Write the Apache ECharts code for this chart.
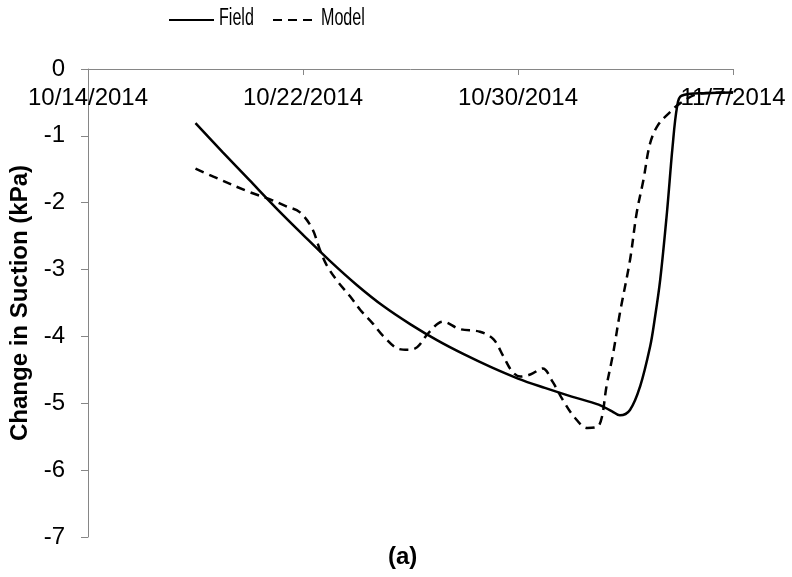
<!DOCTYPE html>
<html>
<head>
<meta charset="utf-8">
<script src="https://cdn.jsdelivr.net/npm/echarts@6/dist/echarts.min.js"></script>
<style>
  html, body { margin: 0; padding: 0; background: #ffffff; }
  #chart { width: 792px; height: 577px; }
</style>
</head>
<body>
<div id="chart"></div>
<script>
// Time origin of the horizontal axis and its tick spacing (days)
const startDate = '2014-10-14';
const endDate = '2014-11-07';
const tickStepDays = 8;

// Series names shown in the key
const seriesNames = ['Field', 'Model'];

// Measured field suction change (kPa)
const fieldTimes = [
  '2014-10-18 00:00', '2014-10-19 00:00', '2014-10-20 00:00', '2014-10-21 00:00',
  '2014-10-22 00:00', '2014-10-23 00:00', '2014-10-24 00:00', '2014-10-25 00:00',
  '2014-10-26 00:00', '2014-10-27 00:00', '2014-10-28 00:00', '2014-10-29 00:00',
  '2014-10-30 00:00', '2014-10-31 00:00', '2014-11-01 00:00', '2014-11-02 00:00',
  '2014-11-02 12:00', '2014-11-02 19:00', '2014-11-03 04:00', '2014-11-03 13:00',
  '2014-11-03 22:00', '2014-11-04 02:00', '2014-11-04 07:00', '2014-11-04 13:00',
  '2014-11-04 18:00', '2014-11-04 22:00', '2014-11-05 02:00', '2014-11-06 00:00',
  '2014-11-07 00:00'
];
const fieldValues = [
  -0.81, -1.24, -1.66, -2.08,
  -2.48, -2.87, -3.23, -3.55,
  -3.82, -4.06, -4.27, -4.46,
  -4.63, -4.77, -4.90, -5.02,
  -5.12, -5.18, -5.10, -4.75,
  -4.15, -3.75, -3.15, -2.15,
  -1.17, -0.57, -0.40, -0.36,
  -0.35
];

// Modelled suction change (kPa)
const modelTimes = [
  '2014-10-18 00:00', '2014-10-18 16:00', '2014-10-20 00:00', '2014-10-20 17:00',
  '2014-10-21 10:00', '2014-10-21 21:00', '2014-10-22 08:00', '2014-10-22 15:00',
  '2014-10-22 21:00', '2014-10-23 07:00', '2014-10-23 18:00', '2014-10-24 03:00',
  '2014-10-24 14:00', '2014-10-25 00:00', '2014-10-25 14:00', '2014-10-25 22:00',
  '2014-10-26 06:00', '2014-10-26 16:00', '2014-10-27 05:00', '2014-10-27 20:00',
  '2014-10-28 14:00', '2014-10-29 02:00', '2014-10-29 11:00', '2014-10-29 19:00',
  '2014-10-30 02:00', '2014-10-30 11:00', '2014-10-30 22:00', '2014-10-31 07:00',
  '2014-10-31 16:00', '2014-11-01 03:00', '2014-11-01 14:00', '2014-11-01 23:00',
  '2014-11-02 03:00', '2014-11-02 07:00', '2014-11-02 13:00', '2014-11-02 19:00',
  '2014-11-03 04:00', '2014-11-03 10:00', '2014-11-03 16:00', '2014-11-03 22:00',
  '2014-11-04 05:00', '2014-11-04 16:00', '2014-11-05 01:00', '2014-11-05 18:00',
  '2014-11-07 00:00'
];
const modelValues = [
  -1.49, -1.61, -1.84, -1.94,
  -2.06, -2.14, -2.38, -2.70,
  -2.93, -3.18, -3.40, -3.60,
  -3.80, -4.00, -4.19, -4.20,
  -4.16, -3.95, -3.78, -3.89,
  -3.93, -4.04, -4.30, -4.53,
  -4.60, -4.57, -4.48, -4.68,
  -4.95, -5.22, -5.37, -5.35,
  -5.20, -4.75, -4.25, -3.65,
  -2.86, -2.15, -1.66, -1.11,
  -0.84, -0.64, -0.51, -0.37,
  -0.35
];

const DAY_MS = 86400000;
function toUTC(s) {
  const parts = s.split(' ');
  const [Y, M, D] = parts[0].split('-').map(Number);
  const [h, m] = (parts[1] || '00:00').split(':').map(Number);
  return Date.UTC(Y, M - 1, D, h, m);
}
const originMs = toUTC(startDate);
const spanDays = (toUTC(endDate) - originMs) / DAY_MS;
function daysSinceStart(s) { return (toUTC(s) - originMs) / DAY_MS; }
function dateLabel(days) {
  const d = new Date(originMs + days * DAY_MS);
  return (d.getUTCMonth() + 1) + '/' + d.getUTCDate() + '/' + d.getUTCFullYear();
}
function pairs(times, values) { return times.map((t, i) => [daysSinceStart(t), values[i]]); }

const FONT = '"Liberation Sans", Arial, sans-serif';
const AXIS_GREY = '#868686';

// Key: line samples come from the legend, the condensed names are drawn beside them
const keyLeft = 168, keyY = 18, keySample = 45, keyGapToText = 6, keyStep = 102;
const keyLabels = seriesNames.map((name, i) => ({
  type: 'text',
  x: keyLeft + i * keyStep + keySample + keyGapToText,
  y: keyY + 1,
  scaleX: 0.7,
  silent: true,
  style: {
    text: name,
    font: '23px ' + FONT,
    fill: '#000',
    verticalAlign: 'middle'
  }
}));

const chart = echarts.init(document.getElementById('chart'), null, { renderer: 'canvas' });
chart.setOption({
  animation: false,
  backgroundColor: '#ffffff',
  textStyle: { fontFamily: FONT, color: '#000' },
  title: {
    text: '(a)',
    left: 388,
    top: 545,
    padding: 0,
    textStyle: { fontFamily: FONT, fontSize: 24, fontWeight: 'bold', color: '#000' }
  },
  legend: {
    left: keyLeft,
    top: keyY - 10,
    padding: 0,
    itemWidth: keySample,
    itemHeight: 24,
    itemGap: keyStep - keySample,
    itemStyle: { opacity: 0 },
    formatter: () => '',
    data: seriesNames
  },
  graphic: keyLabels,
  grid: { left: 88, right: 59, top: 69, bottom: 40, containLabel: false },
  xAxis: {
    type: 'value',
    position: 'top',
    min: 0,
    max: spanDays,
    interval: tickStepDays,
    splitLine: { show: false },
    axisLine: { onZero: false, lineStyle: { color: AXIS_GREY, width: 1 } },
    axisTick: { inside: true, length: 6, lineStyle: { color: AXIS_GREY } },
    axisLabel: {
      inside: true,
      margin: 17,
      fontFamily: FONT,
      fontSize: 24,
      color: '#000',
      showMinLabel: true,
      showMaxLabel: true,
      formatter: v => dateLabel(v)
    }
  },
  yAxis: {
    type: 'value',
    min: -7,
    max: 0,
    interval: 1,
    name: 'Change in Suction (kPa)',
    nameLocation: 'middle',
    nameGap: 46,
    nameTextStyle: { fontFamily: FONT, fontSize: 24, fontWeight: 'bold', color: '#000' },
    splitLine: { show: false },
    axisLine: { show: true, onZero: false, lineStyle: { color: AXIS_GREY, width: 1 } },
    axisTick: { show: true, inside: false, length: 7, lineStyle: { color: AXIS_GREY } },
    axisLabel: { margin: 23, fontFamily: FONT, fontSize: 24, color: '#000' }
  },
  series: [
    {
      name: seriesNames[0],
      type: 'line',
      data: pairs(fieldTimes, fieldValues),
      smooth: 0.35,
      symbol: 'none',
      lineStyle: { color: '#000', width: 2.5, type: 'solid' },
      itemStyle: { color: '#000' }
    },
    {
      name: seriesNames[1],
      type: 'line',
      data: pairs(modelTimes, modelValues),
      smooth: 0.35,
      symbol: 'none',
      lineStyle: { color: '#000', width: 2.5, type: [9, 6] },
      itemStyle: { color: '#000' }
    }
  ]
});
</script>
</body>
</html>
